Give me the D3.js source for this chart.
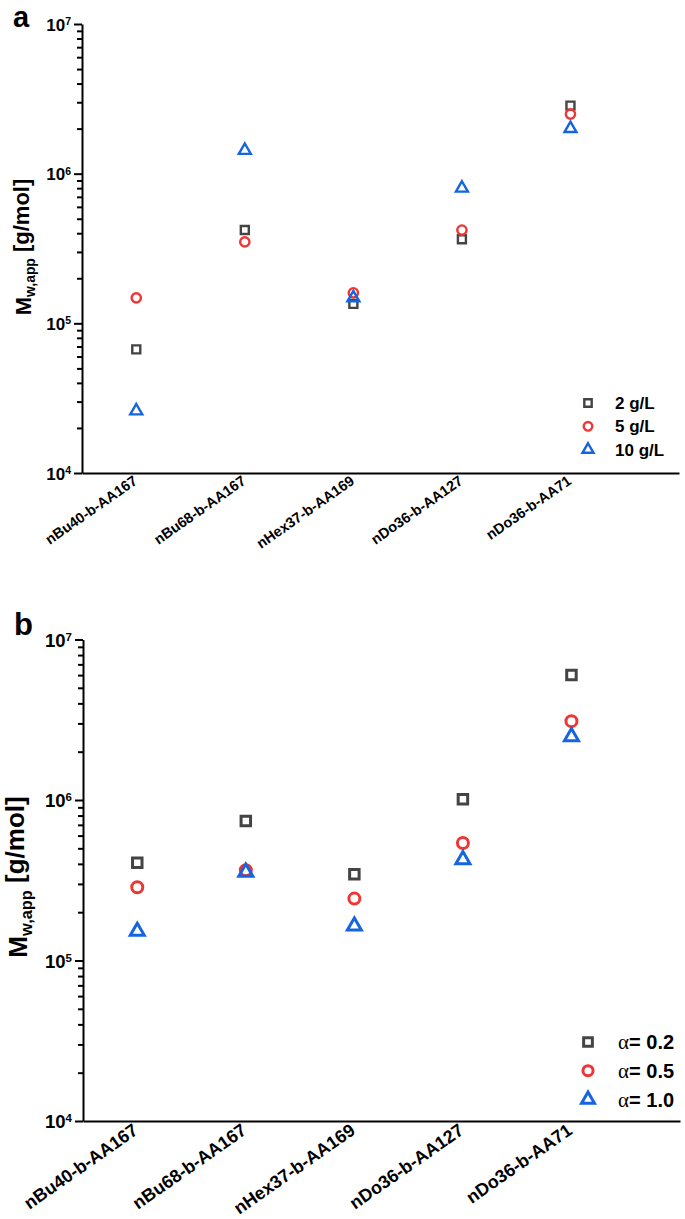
<!DOCTYPE html>
<html><head><meta charset="utf-8">
<script src="https://cdn.jsdelivr.net/npm/d3@7"></script>
<style>body{margin:0;background:#fff}svg{display:block}text{font-family:Arial,"Liberation Sans",sans-serif;font-weight:bold}</style>
</head><body>
<script>
const categories = ["nBu40-b-AA167","nBu68-b-AA167","nHex37-b-AA169","nDo36-b-AA127","nDo36-b-AA71"];
// Panel a: concentration series
const a_2gL  = [6.7e4, 4.2e5, 1.35e5, 3.65e5, 2.85e6];
const a_5gL  = [1.48e5, 3.5e5, 1.6e5, 4.2e5, 2.5e6];
const a_10gL = [2.6e4, 1.43e6, 1.48e5, 8.0e5, 2.0e6];
// Panel b: alpha series
const b_a02 = [4.06e5, 7.4e5, 3.45e5, 1.01e6, 6.0e6];
const b_a05 = [2.86e5, 3.65e5, 2.43e5, 5.4e5, 3.1e6];
const b_a10 = [1.52e5, 3.55e5, 1.64e5, 4.25e5, 2.48e6];
const legendA = ["2 g/L","5 g/L","10 g/L"];
const legendB = ["0.2","0.5","1.0"];
const yTickExps = [4,5,6,7];

const colors = ["#444444","#f03535","#1565e0"];
const shapes = [d3.symbolSquare, d3.symbolCircle, d3.symbolTriangle];

const W=685,H=1219;
const svg = d3.select("body").append("svg").attr("width",W).attr("height",H);

function panel(cfg){
  const g = svg.append("g");
  const x = d3.scaleLinear().domain([0.5,6]).range([cfg.x0,cfg.x1]);
  const y = d3.scaleLog().domain([1e4,1e7]).range([cfg.yb,cfg.yt]);
  // minor ticks
  const minor=[];
  for(let e=4;e<7;e++) for(let m=2;m<=9;m++) minor.push(m*Math.pow(10,e));
  g.append("g").attr("transform",`translate(${cfg.x0},0)`)
    .call(d3.axisLeft(y).tickValues(minor).tickSize(cfg.minorLen).tickFormat(""))
    .call(s=>{s.select(".domain").remove();s.selectAll("line").attr("stroke","#000").attr("stroke-width",cfg.sw);});
  const major = yTickExps.map(e=>Math.pow(10,e));
  const ax = g.append("g").attr("transform",`translate(${cfg.x0},0)`)
    .call(d3.axisLeft(y).tickValues(major).tickSize(cfg.majorLen).tickSizeOuter(0).tickFormat(""));
  ax.select(".domain").attr("stroke","#000").attr("stroke-width",cfg.sw);
  ax.selectAll("line").attr("stroke","#000").attr("stroke-width",cfg.sw);
  yTickExps.forEach(e=>{
    const t=g.append("text").attr("x",cfg.x0-cfg.majorLen-3).attr("y",y(Math.pow(10,e))).attr("dy","0.4em")
      .attr("text-anchor","end").attr("font-size",cfg.tickFs);
    t.append("tspan").text("10");
    t.append("tspan").attr("dy","-0.55em").attr("font-size",cfg.tickFs*0.62).text(e);
  });
  // x axis
  const xa = g.append("g").attr("transform",`translate(0,${cfg.yb})`)
    .call(d3.axisBottom(x).tickValues([]).tickSizeOuter(0));
  xa.select(".domain").attr("stroke","#000").attr("stroke-width",cfg.sw);
  categories.forEach((c,i)=>{
    const px=x(i+1)+cfg.lblDx, py=cfg.yb+cfg.lblDy;
    g.append("text").attr("transform",`translate(${px},${py}) rotate(-35)`)
      .attr("text-anchor","end").attr("font-size",cfg.lblFs).text(c);
  });
  // y title
  const yt = g.append("text").attr("transform",`translate(${cfg.titleX},${cfg.titleY}) rotate(-90)`)
    .attr("text-anchor","middle").attr("font-size",cfg.titleFs);
  yt.append("tspan").text("M");
  yt.append("tspan").attr("dy","0.3em").attr("font-size",cfg.titleFs*0.63).text("w,app");
  yt.append("tspan").attr("dy","-0.3em").text(" [g/mol]");
  // panel letter
  g.append("text").attr("x",cfg.letterX).attr("y",cfg.letterY).attr("font-size",cfg.letterFs).text(cfg.letter);
  // series
  cfg.series.forEach((vals,k)=>{
    g.append("g").selectAll("path").data(vals).join("path")
      .attr("transform",(d,i)=>`translate(${x(i+1)},${y(d)})`)
      .attr("d",d3.symbol().type(shapes[k]).size(cfg.sizes[k]))
      .attr("fill","none").attr("stroke",colors[k]).attr("stroke-width",cfg.msw);
  });
  // legend
  cfg.legend.forEach((lab,k)=>{
    const ly = cfg.legY + k*cfg.legStep;
    g.append("path").attr("transform",`translate(${cfg.legX},${ly})`)
      .attr("d",d3.symbol().type(shapes[k]).size(cfg.sizes[k]*0.85))
      .attr("fill","none").attr("stroke",colors[k]).attr("stroke-width",cfg.msw);
    const t = g.append("text").attr("x",cfg.legTX).attr("y",ly).attr("dy","0.36em").attr("font-size",cfg.legFs);
    if(cfg.alpha){
      t.append("tspan").attr("font-family","'Liberation Serif','DejaVu Serif',serif").attr("font-weight","normal").attr("font-size",cfg.legFs*1.05).text("α");
      t.append("tspan").text("= "+lab);
    } else t.text(lab);
  });
}

panel({x0:82,x1:679,yt:24,yb:473,sw:2,majorLen:8,minorLen:5,tickFs:17,lblFs:14.5,lblDx:2,lblDy:10,
  titleX:31,titleY:247,titleFs:22,letter:"a",letterX:13,letterY:27,letterFs:29,
  series:[a_2gL,a_5gL,a_10gL],sizes:[64,68,62],msw:2.4,
  legend:legendA,legX:588,legY:403,legStep:23.3,legTX:615,legFs:17,alpha:false});

panel({x0:83,x1:680,yt:639.5,yb:1121,sw:2,majorLen:8,minorLen:5,tickFs:18.5,lblFs:18,lblDx:2,lblDy:12,
  titleX:27,titleY:877,titleFs:26,letter:"b",letterX:14,letterY:635,letterFs:31,
  series:[b_a02,b_a05,b_a10],sizes:[90,95,85],msw:3,
  legend:legendB,legX:588,legY:1042,legStep:28.7,legTX:618,legFs:20,alpha:true});
</script>
</body></html>
